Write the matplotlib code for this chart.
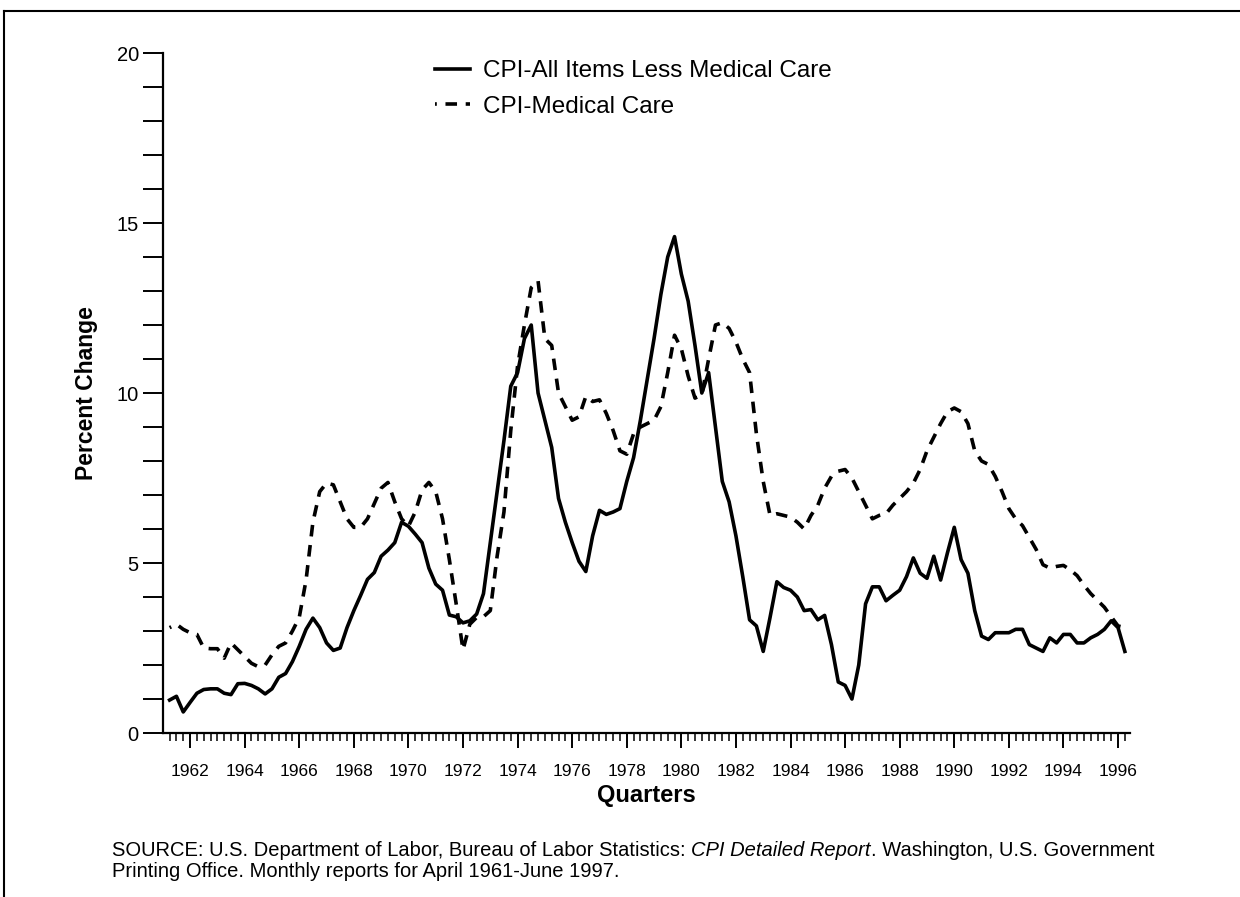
import matplotlib
matplotlib.use('Agg')
import matplotlib.pyplot as plt
import numpy as np
from matplotlib.lines import Line2D

plt.rcParams['font.family'] = ['Liberation Sans', 'DejaVu Sans']

# quarterly values, 1961 Q2 .. 1996 Q2
start_year = 1961.25
all_less_medical = [
    0.97, 1.08, 0.62, 0.90, 1.17, 1.28, 1.30, 1.30, 1.17, 1.13,
    1.45, 1.46, 1.40, 1.30, 1.15, 1.30, 1.64, 1.75, 2.10, 2.55,
    3.05, 3.38, 3.10, 2.65, 2.43, 2.50, 3.10, 3.60, 4.05, 4.52,
    4.72, 5.20, 5.38, 5.60, 6.20, 6.08, 5.85, 5.60, 4.85, 4.38,
    4.20, 3.47, 3.42, 3.24, 3.30, 3.50, 4.10, 5.60, 7.10, 8.60,
    10.2, 10.6, 11.6, 12.0, 10.0, 9.20, 8.40, 6.90, 6.20, 5.60,
    5.05, 4.75, 5.80, 6.55, 6.43, 6.50, 6.60, 7.40, 8.10, 9.20,
    10.4, 11.6, 12.9, 14.0, 14.6, 13.5, 12.7, 11.4, 10.0, 10.6,
    9.00, 7.40, 6.80, 5.80, 4.60, 3.33, 3.15, 2.40, 3.40, 4.45,
    4.28, 4.20, 4.00, 3.60, 3.63, 3.33, 3.46, 2.60, 1.50, 1.40,
    1.00, 2.00, 3.80, 4.30, 4.30, 3.89, 4.05, 4.20, 4.60, 5.15,
    4.70, 4.55, 5.20, 4.50, 5.30, 6.05, 5.10, 4.70, 3.60, 2.85,
    2.75, 2.95, 2.95, 2.95, 3.05, 3.05, 2.60, 2.50, 2.40, 2.80,
    2.65, 2.90, 2.90, 2.65, 2.65, 2.80, 2.90, 3.05, 3.30, 3.10,
    2.40,
]
medical_care = [
    3.10, 3.20, 3.05, 2.95, 2.90, 2.50, 2.48, 2.48, 2.20, 2.65,
    2.45, 2.25, 2.05, 1.95, 2.00, 2.30, 2.55, 2.65, 3.00, 3.40,
    4.50, 6.20, 7.10, 7.35, 7.30, 6.80, 6.30, 6.05, 6.05, 6.30,
    6.75, 7.20, 7.37, 6.80, 6.30, 6.08, 6.50, 7.15, 7.37, 7.10,
    6.30, 5.10, 3.80, 2.45, 3.20, 3.40, 3.42, 3.60, 5.20, 6.50,
    8.90, 10.8, 12.0, 13.1, 13.3, 11.6, 11.4, 10.0, 9.60, 9.20,
    9.30, 9.90, 9.75, 9.80, 9.40, 8.90, 8.30, 8.20, 8.80, 9.00,
    9.10, 9.20, 9.60, 10.6, 11.7, 11.3, 10.5, 9.85, 9.95, 11.0,
    12.0, 12.07, 11.9, 11.5, 11.0, 10.6, 8.80, 7.40, 6.40, 6.45,
    6.40, 6.35, 6.20, 6.00, 6.40, 6.70, 7.20, 7.55, 7.70, 7.75,
    7.50, 7.10, 6.70, 6.30, 6.40, 6.45, 6.70, 6.90, 7.10, 7.35,
    7.75, 8.30, 8.70, 9.10, 9.45, 9.56, 9.45, 9.10, 8.30, 8.00,
    7.90, 7.55, 7.10, 6.60, 6.30, 6.10, 5.75, 5.40, 4.95, 4.85,
    4.90, 4.93, 4.80, 4.63, 4.35, 4.10, 3.90, 3.70, 3.42, 3.15,
    3.10,
]
label_years = list(range(1962, 1997, 2))
source_1a = 'SOURCE: U.S. Department of Labor, Bureau of Labor Statistics: '
source_1b = 'CPI Detailed Report'
source_1c = '. Washington, U.S. Government'
source_2 = 'Printing Office. Monthly reports for April 1961-June 1997.'

quarters = start_year + 0.25 * np.arange(len(all_less_medical))

fig = plt.figure(figsize=(12.4, 8.97), dpi=100)
ax = fig.add_axes([0.1315, 0.1828, 0.7796, 0.7581])

ax.plot(quarters, all_less_medical, color='black', lw=2.6,
        label='CPI-All Items Less Medical Care')
ax.plot(quarters, medical_care, color='black', lw=2.6,
        linestyle=(2.7, (3.2, 2.4)), label='CPI-Medical Care')

ax.set_xlim(1961.01, 1996.43)
ax.set_ylim(0, 20)

ax.spines['top'].set_visible(False)
ax.spines['right'].set_visible(False)
ax.spines['left'].set_linewidth(1.6)
ax.spines['bottom'].set_linewidth(1.6)

ax.set_yticks([0, 5, 10, 15, 20])
ax.set_yticks(range(0, 21), minor=True)
ax.tick_params(axis='y', which='both', direction='out', length=14.5,
               width=1.4, labelsize=14.5, pad=3)

ax.set_xticks(label_years)
ax.set_xticklabels([str(y) for y in label_years])
ax.set_xticks(np.arange(1961.25, 1996.4, 0.25), minor=True)
ax.tick_params(axis='x', which='major', direction='out', length=11,
               width=1.4, labelsize=12.5, pad=11)
ax.tick_params(axis='x', which='minor', direction='out', length=6,
               width=1.1)

ax.set_ylabel('Percent Change', fontsize=16.5, fontweight='bold', labelpad=13)
ax.set_xlabel('Quarters', fontsize=17, fontweight='bold', labelpad=4)

ax.legend(loc='upper left', bbox_to_anchor=(0.351, 0.933),
          bbox_transform=fig.transFigure, frameon=False, fontsize=17.5,
          handlelength=1.45, handletextpad=0.5, labelspacing=0.56,
          borderpad=0, borderaxespad=0)

# source note, with the report title in italics
fig.canvas.draw()
renderer = fig.canvas.get_renderer()
y1 = 1 - 850 / 897
y2 = 1 - 871 / 897
x0 = 112 / 1240
fs = 14.5
t1 = fig.text(x0, y1, source_1a, fontsize=fs, va='center')
bb = t1.get_window_extent(renderer)
x1 = bb.x1 / fig.bbox.width
t2 = fig.text(x1, y1, source_1b, fontsize=fs, style='italic', va='center')
bb = t2.get_window_extent(renderer)
x2 = bb.x1 / fig.bbox.width
fig.text(x2, y1, source_1c, fontsize=fs, va='center')
fig.text(x0, y2, source_2, fontsize=fs, va='center')

# scanned page frame: top and left rule
fig.add_artist(Line2D([0.0035, 0.0035], [0.0, 0.988], transform=fig.transFigure,
                      color='black', lw=1.5))
fig.add_artist(Line2D([0.0035, 1.0], [0.988, 0.988], transform=fig.transFigure,
                      color='black', lw=1.5))

fig.savefig('out.png', dpi=100)
